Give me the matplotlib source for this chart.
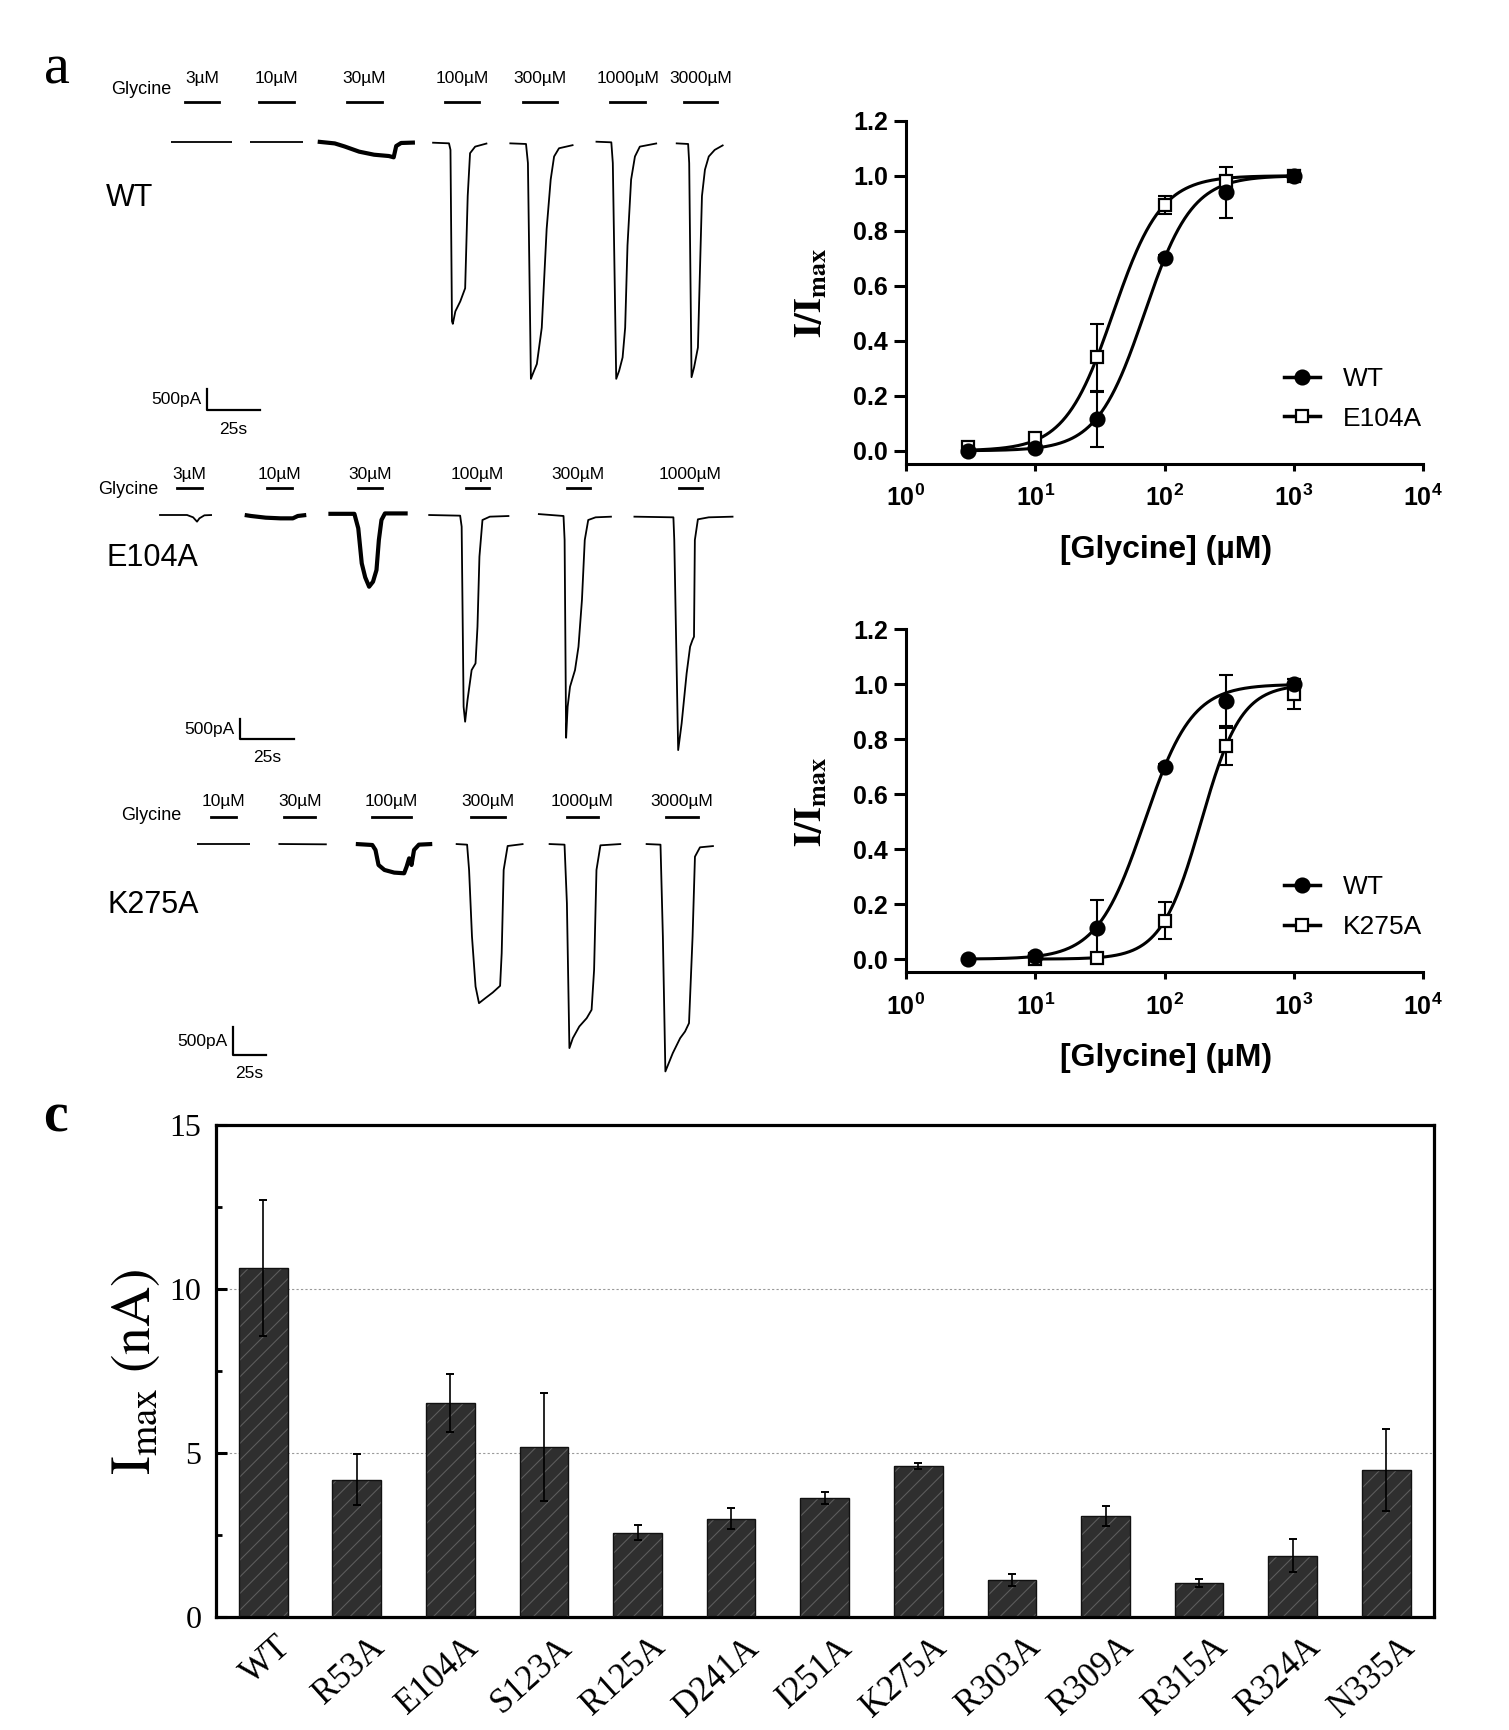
import numpy as np
import matplotlib
matplotlib.use('Agg')
import matplotlib.pyplot as plt
import matplotlib.transforms as mtransforms
from matplotlib.lines import Line2D

W, H = 1509, 1730
plt.rcParams['font.family'] = ['Liberation Sans', 'DejaVu Sans']
plt.rcParams['mathtext.fontset'] = 'custom'
plt.rcParams['mathtext.rm'] = 'Liberation Sans:bold'
plt.rcParams['mathtext.it'] = 'Liberation Sans:bold'
plt.rcParams['mathtext.bf'] = 'Liberation Sans:bold'
plt.rcParams['hatch.linewidth'] = 0.8

# ---------------- panel a : current traces (time in s, current in pA) ----------------
wt_conc = ['3µM', '10µM', '30µM', '100µM', '300µM', '1000µM', '3000µM']
wt_on = [6.5, 41.6, 82.8, 128.6, 165.4, 206.6, 241.3]
wt_off = [22.6, 57.8, 99.0, 144.8, 181.6, 222.8, 256.8]
wt_t = [[0, 28.5],
        [37, 62],
        [69, 77, 81.6, 88.5, 95.5, 102.4, 104.7, 105.9, 108.2, 114.7],
        [122.8, 130.7, 131.4, 132.1, 132.5, 133.7, 136.0, 138.3, 139.5, 140.6, 143.0, 148.7],
        [159.1, 166.9, 167.8, 169.2, 170.1, 172.0, 174.3, 176.6, 178.5, 180.1, 182.4, 189.2],
        [199.6, 207.0, 207.7, 209.3, 210.7, 212.3, 213.5, 214.6, 216.3, 218.1, 220.4, 228.5],
        [237.3, 243.1, 243.6, 244.7, 245.9, 247.7, 248.6, 249.6, 251.0, 252.8, 255.6, 259.7]]
wt_i = [[0, 0],
        [-10, -10],
        [0, -40, -110, -230, -300, -330, -360, -100, -30, -20],
        [-23, -38, -189, -4129, -4190, -3902, -3674, -3371, -1250, -265, -114, -38],
        [-38, -53, -492, -5455, -5341, -5114, -4280, -2008, -871, -341, -152, -76],
        [0, -15, -492, -5455, -5265, -4962, -4280, -2386, -871, -341, -114, -38],
        [-38, -53, -492, -5417, -5190, -4735, -3068, -1250, -644, -341, -189, -76]]
wt_noisy = [False, False, True, False, False, False, False]

e104a_conc = ['3µM', '10µM', '30µM', '100µM', '300µM', '1000µM']
e104a_on = [8.4, 50.0, 91.8, 141.4, 188.0, 239.8]
e104a_off = [19.8, 61.1, 102.7, 152.3, 198.9, 250.5]
e104a_t = [[0, 12.9, 15.7, 17.5, 18.6, 20.9, 24.4],
           [39.5, 42.4, 49.2, 56.0, 61.7, 64.0, 67.9],
           [78.1, 90.1, 91.9, 93.5, 95.1, 96.9, 98.7, 100.3, 101.4, 102.6, 104.2, 114.7],
           [124.2, 138.9, 139.6, 140.5, 141.2, 142.3, 144.2, 146.0, 146.9, 147.8, 149.2, 152.6, 161.6],
           [174.8, 186.6, 187.1, 187.8, 188.5, 189.6, 191.9, 193.5, 195.1, 196.4, 198.0, 201.4, 208.9],
           [218.9, 237.3, 237.7, 239.5, 241.1, 243.4, 245.0, 246.1, 246.8, 247.2, 248.6, 253.6, 265.0]]
e104a_i = [[0, 0, -59, -169, -85, -8, 0],
           [0, -25, -68, -85, -85, -25, 0],
           [30, 30, -339, -1228, -1584, -1821, -1694, -1398, -635, -127, 40, 40],
           [0, -17, -296, -4870, -5251, -4700, -3939, -3769, -2837, -1059, -127, -42, -25],
           [25, -25, -635, -5658, -4870, -4362, -3939, -3346, -2160, -635, -127, -59, -42],
           [-42, -59, -635, -5971, -5294, -4023, -3346, -3176, -3092, -635, -110, -59, -42]]
e104a_noisy = [False, True, True, False, False, False]

k275a_conc = ['10µM', '30µM', '100µM', '300µM', '1000µM', '3000µM']
k275a_on = [10.5, 66.1, 132.7, 207.4, 280.3, 355.0]
k275a_off = [29.9, 89.7, 161.8, 233.6, 303.4, 379.3]
k275a_t = [[0, 40.4],
           [61.7, 98.3],
           [120.3, 132.8, 135.2, 137.5, 142.0, 149.4, 156.9, 158.8, 160.7, 162.5, 164.4, 168.1, 178.2],
           [196.0, 204.6, 206.1, 208.3, 211.0, 213.6, 218.4, 224.0, 229.6, 230.8, 232.3, 235.3, 247.3],
           [266.4, 278.4, 280.2, 282.1, 284.7, 289.6, 295.2, 298.9, 300.8, 302.6, 305.6, 321.3],
           [339.9, 351.1, 352.9, 354.8, 360.4, 366.0, 369.7, 372.7, 375.4, 377.2, 381.0, 391.5]]
k275a_i = [[0, 0],
           [0, -6],
           [0, -18, -108, -379, -469, -517, -529, -409, -259, -379, -108, -12, 0],
           [0, -12, -469, -1673, -2575, -2876, -2786, -2684, -2563, -1974, -469, -36, 0],
           [0, -12, -1071, -3688, -3508, -3297, -3147, -2996, -2274, -469, -24, 0],
           [0, -12, -1673, -4110, -3779, -3508, -3388, -3237, -1673, -229, -60, -36]]
k275a_noisy = [False, False, True, False, False, False]

# ---------------- panel b : concentration-response ----------------
wt_dose = [3, 10, 30, 100, 300, 1000]
wt_resp = [0.0, 0.01, 0.115, 0.70, 0.94, 1.0]
wt_sem = [0.005, 0.008, 0.10, 0.01, 0.093, 0.02]
e104a_dose = [3, 10, 30, 100, 300, 1000]
e104a_resp = [0.015, 0.045, 0.34, 0.895, 0.98, 1.0]
e104a_sem = [0.005, 0.01, 0.122, 0.033, 0.02, 0.005]
k275a_dose = [10, 30, 100, 300, 1000]
k275a_resp = [0.0, 0.005, 0.14, 0.775, 0.965]
k275a_sem = [0.005, 0.005, 0.068, 0.067, 0.055]
# Hill fit: EC50 (µM), Hill slope
wt_fit = (70, 2.36)
e104a_fit = (40, 2.33)
k275a_fit = (192, 2.8)

# ---------------- panel c : Imax ----------------
mutants = ['WT', 'R53A', 'E104A', 'S123A', 'R125A', 'D241A', 'I251A',
           'K275A', 'R303A', 'R309A', 'R315A', 'R324A', 'N335A']
imax = [10.63, 4.18, 6.51, 5.17, 2.56, 2.99, 3.62, 4.58, 1.11, 3.06, 1.03, 1.86, 4.46]
imax_err = [2.07, 0.78, 0.89, 1.65, 0.22, 0.33, 0.18, 0.09, 0.19, 0.31, 0.12, 0.51, 1.25]

fig = plt.figure(figsize=(W / 100, H / 100), dpi=100)


def px_axes(left, right, top, bottom):
    return fig.add_axes([left / W, 1 - bottom / H, (right - left) / W, (bottom - top) / H])


def trace_row(box, t0_px, base_px, s_px, pa_px, conc, on, off, ts, cur, noisy,
              bar_lvl, lab_lvl, name, name_xy, gly_xy, sb_xy):
    left, right, top, bottom = box
    ax = px_axes(left, right, top, bottom)
    ax.set_xlim((left - t0_px) * s_px, (right - t0_px) * s_px)
    ax.set_ylim(-(bottom - base_px) * pa_px, -(top - base_px) * pa_px)
    ax.axis('off')
    for t, c, nz in zip(ts, cur, noisy):
        ax.plot(t, c, color='k', lw=3.0 if nz else 1.3, solid_joinstyle='round',
                solid_capstyle='butt')
    for a, b, lab in zip(on, off, conc):
        ax.plot([a, b], [bar_lvl, bar_lvl], color='k', lw=2.0)
        ax.text((a + b) / 2, lab_lvl, lab, ha='center', va='center', fontsize=12.5)
    ax.text(name_xy[0], name_xy[1], name, ha='left', va='center', fontsize=22)
    ax.text(gly_xy[0], gly_xy[1], 'Glycine', ha='center', va='center', fontsize=13)
    st, si = sb_xy
    ax.plot([st, st, st + 25], [si + 500, si, si], color='k', lw=1.6)
    ax.annotate('500pA', (st, si + 250), xytext=(-4, 0), textcoords='offset points',
                ha='right', va='center', fontsize=12.5)
    ax.annotate('25s', (st + 12.5, si), xytext=(0, -8), textcoords='offset points',
                ha='center', va='top', fontsize=12.5)
    return ax


trace_row((60, 770, 40, 450), 170.9, 141.67, 0.47, 23.0, wt_conc, wt_on, wt_off,
          wt_t, wt_i, wt_noisy, 922, 1459, 'WT', (-30.6, -1306), (-14.1, 1190), (16.9, -6182))
trace_row((60, 770, 450, 780), 159.1, 515, 0.4614, 25.4, e104a_conc, e104a_on, e104a_off,
          e104a_t, e104a_i, e104a_noisy, 678, 1016, 'E104A', (-24.5, -1101), (-14.1, 635),
          (37.3, -5692))
trace_row((60, 770, 780, 1100), 197.0, 844, 0.7575, 18.07, k275a_conc, k275a_on, k275a_off,
          k275a_t, k275a_i, k275a_noisy, 493, 764, 'K275A', (-67.9, -1102), (-34.7, 506),
          (27.2, -3814))


def hill(x, ec50, n):
    return 1.0 / (1.0 + (ec50 / x) ** n)


def dose_panel(box, series, ylab_y, xlab_y):
    ax = px_axes(*box)
    ax.set_xscale('log')
    ax.set_xlim(1, 1e4)
    ax.set_ylim(-0.048, 1.2)
    handles = []
    for dose, resp, sem, fit, filled, label in series:
        xx = np.logspace(np.log10(dose[0]), np.log10(dose[-1]), 300)
        ax.plot(xx, hill(xx, *fit), color='k', lw=2.2, zorder=2)
        ax.errorbar(dose, resp, yerr=sem, fmt='none', ecolor='k', elinewidth=1.5,
                    capsize=5, capthick=1.5, zorder=3)
        mk = dict(marker='o', ms=10, mfc='k') if filled else dict(marker='s', ms=9, mfc='white')
        ax.plot(dose, resp, ls='none', mec='k', mew=1.6, zorder=5 if filled else 4, **mk)
        handles.append(Line2D([], [], color='k', lw=2.5, mec='k', mew=1.6, label=label, **mk))
    for s in ['top', 'right']:
        ax.spines[s].set_visible(False)
    for s in ['left', 'bottom']:
        ax.spines[s].set_linewidth(2.2)
    ax.set_yticks(np.arange(0, 1.21, 0.2))
    ax.set_yticklabels(['%.1f' % v for v in np.arange(0, 1.21, 0.2)],
                       fontsize=18, fontweight='bold')
    ax.set_xticks([1, 10, 100, 1000, 10000])
    ax.set_xticklabels([r'$\mathrm{10^{%d}}$' % k for k in range(5)], fontsize=18)
    ax.xaxis.set_minor_locator(matplotlib.ticker.NullLocator())
    ax.tick_params(axis='y', direction='out', length=9, width=2.2, pad=4)
    ax.tick_params(axis='x', direction='out', length=5, width=2.2, pad=10)
    ax.legend(handles=handles, loc='center left', bbox_to_anchor=(0.731, 0.19),
              frameon=False, fontsize=19, handlelength=1.36, handletextpad=0.87,
              labelspacing=0.6, borderpad=0, borderaxespad=0)
    fig.text(810.6 / W, 1 - ylab_y / H, r'$\mathbf{I/I_{max}}$', rotation=90,
             ha='center', va='center', fontsize=27, math_fontfamily='stix')
    fig.text(1166.5 / W, 1 - xlab_y / H, '[Glycine] (µM)', ha='center', va='center',
             fontsize=23, fontweight='bold')
    return ax


dose_panel((906, 1423, 120.7, 464),
           [(wt_dose, wt_resp, wt_sem, wt_fit, True, 'WT'),
            (e104a_dose, e104a_resp, e104a_sem, e104a_fit, False, 'E104A')], 293, 550)
dose_panel((906, 1423, 629.3, 972.3),
           [(wt_dose, wt_resp, wt_sem, wt_fit, True, 'WT'),
            (k275a_dose, k275a_resp, k275a_sem, k275a_fit, False, 'K275A')], 801.7, 1058)

# ---------------- panel c ----------------
axc = px_axes(215.5, 1434, 1125, 1616.5)
x = np.arange(len(mutants))
axc.bar(x, imax, width=0.52, color='#2f2f2f', edgecolor='#5c5c5c', hatch='//', lw=0, zorder=2)
axc.bar(x, imax, width=0.52, fill=False, edgecolor='#111111', lw=1.0, zorder=3)
axc.errorbar(x, imax, yerr=imax_err, fmt='none', ecolor='k', elinewidth=1.2,
             capsize=3, capthick=1.4, zorder=4)
axc.set_xlim(-0.51, 12.51)
axc.set_ylim(0, 15)
axc.set_yticks([0, 5, 10, 15])
axc.set_yticks([2.5, 7.5, 12.5], minor=True)
axc.set_yticklabels(['0', '5', '10', '15'], fontsize=23, family='Liberation Serif')
axc.yaxis.grid(True, which='major', ls=(0, (2, 2)), color='#9a9a9a', lw=0.8)
axc.set_axisbelow(True)
for s in axc.spines.values():
    s.set_linewidth(2.3)
axc.tick_params(axis='y', which='major', direction='in', length=8, width=2.2, pad=10)
axc.tick_params(axis='y', which='minor', direction='in', length=4, width=2.0)
axc.set_xticks(x)
axc.set_xticklabels(mutants, fontsize=25, family='Liberation Serif', rotation=42,
                    ha='right', va='center', rotation_mode='anchor')
axc.tick_params(axis='x', length=0, pad=19)
shift = mtransforms.ScaledTranslation(17 / 72, 0, fig.dpi_scale_trans)
for lab in axc.get_xticklabels():
    lab.set_transform(lab.get_transform() + shift)
fig.text(136 / W, 1 - 1372 / H, r'$\mathrm{I_{max}\ (nA)}$', rotation=90, ha='center',
         va='center', fontsize=40, math_fontfamily='stix')

# panel letters
fig.text(57 / W, 1 - 70 / H, 'a', ha='center', va='center', fontsize=42,
         family='Liberation Serif')
fig.text(55 / W, 1 - 1118 / H, 'c', ha='center', va='center', fontsize=40,
         family='Liberation Serif', fontweight='bold')

fig.savefig('out.png', dpi=100)
